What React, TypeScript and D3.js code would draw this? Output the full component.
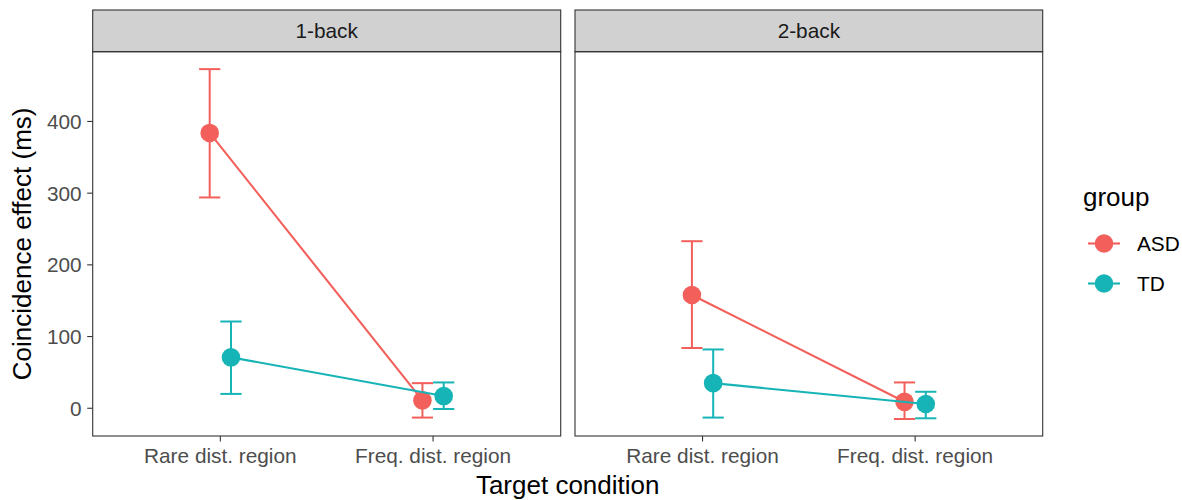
import React from "react";
import * as d3 from "d3";

// ---- data ----
const panels = ["1-back", "2-back"];
const conditions = ["Rare dist. region", "Freq. dist. region"];
const groups = ["ASD", "TD"];
const groupColors = ["#F3605B", "#16B4B6"];

// mean, lower, upper  per panel -> condition
const asdMean = [[384, 11], [158, 9]];
const asdLow = [[294, -13], [84, -15]];
const asdHigh = [[473, 35], [233, 36]];
const tdMean = [[71, 17], [35, 6]];
const tdLow = [[20, -1], [-13, -14]];
const tdHigh = [[121, 36], [82, 23]];

const yTicks = [0, 100, 200, 300, 400];

const means = [asdMean, tdMean];
const lows = [asdLow, tdLow];
const highs = [asdHigh, tdHigh];

// ---- layout ----
const W = 1182;
const H = 500;
const panelX = [
  [92.7, 560.7],
  [575, 1042.7],
];
const stripTop = 10;
const panelTop = 51.7;
const panelBottom = 436;
const FONT = "'Liberation Sans', Arial, Helvetica, sans-serif";
const tickFs = 20.8;
const titleFs = 26;

export default function App() {
  const y = d3.scaleLinear().domain([-38.7, 497.3]).range([panelBottom, panelTop]);

  return (
    <svg
      width={W}
      height={H}
      style={{ position: "absolute", left: 0, top: 0, background: "#fff" }}
      fontFamily={FONT}
    >
      {panels.map((pName, pi) => {
        const [x0, x1] = panelX[pi];
        const x = d3.scalePoint<string>().domain(conditions).range([x0, x1]).padding(0.6);
        const step = x.step();
        const dodge = [-0.05 * step, 0.05 * step];
        return (
          <g key={pName}>
            <rect x={x0} y={panelTop} width={x1 - x0} height={panelBottom - panelTop} fill="#fff" />
            {/* strip */}
            <rect
              x={x0}
              y={stripTop}
              width={x1 - x0}
              height={panelTop - stripTop}
              fill="#D1D1D1"
              stroke="#333333"
              strokeWidth={1.1}
            />
            <text
              x={(x0 + x1) / 2}
              y={(stripTop + panelTop) / 2 + tickFs * 0.36}
              textAnchor="middle"
              fontSize={tickFs}
              fill="#1A1A1A"
            >
              {pName}
            </text>

            {/* error bars and points */}
            {groups.map((g, gi) => {
              const col = groupColors[gi];
              const xs = conditions.map((c) => (x(c) as number) + dodge[gi]);
              const vals = means[gi][pi];
              return (
                <g key={g}>
                  {conditions.map((c, ci) => {
                    const cx = xs[ci];
                    const lo = y(lows[gi][pi][ci]);
                    const hi = y(highs[gi][pi][ci]);
                    return (
                      <g key={c} stroke={col} strokeWidth={2} fill="none">
                        <line x1={cx} x2={cx} y1={lo} y2={hi} />
                        <line x1={cx - 10.6} x2={cx + 10.6} y1={lo} y2={lo} />
                        <line x1={cx - 10.6} x2={cx + 10.6} y1={hi} y2={hi} />
                      </g>
                    );
                  })}
                  {conditions.map((c, ci) => (
                    <circle key={c} cx={xs[ci]} cy={y(vals[ci])} r={9.3} fill={col} />
                  ))}
                </g>
              );
            })}
            {/* lines */}
            {groups.map((g, gi) => {
              const col = groupColors[gi];
              const xs = conditions.map((c) => (x(c) as number) + dodge[gi]);
              const path = d3
                .line<number>()
                .x((_, ci) => xs[ci])
                .y((v) => y(v))(means[gi][pi]) as string;
              return <path key={g} d={path} stroke={col} strokeWidth={2.1} fill="none" />;
            })}

            {/* border */}
            <rect
              x={x0}
              y={panelTop}
              width={x1 - x0}
              height={panelBottom - panelTop}
              fill="none"
              stroke="#333333"
              strokeWidth={1.1}
            />

            {/* x ticks */}
            {conditions.map((c) => {
              const cx = x(c) as number;
              return (
                <g key={c}>
                  <line x1={cx} x2={cx} y1={panelBottom} y2={panelBottom + 5.5} stroke="#333333" strokeWidth={1.1} />
                  <text x={cx} y={panelBottom + 26.5} textAnchor="middle" fontSize={tickFs} fill="#4D4D4D">
                    {c}
                  </text>
                </g>
              );
            })}

            {/* y axis on first panel */}
            {pi === 0 &&
              yTicks.map((t) => (
                <g key={t}>
                  <line x1={x0 - 5.5} x2={x0} y1={y(t)} y2={y(t)} stroke="#333333" strokeWidth={1.1} />
                  <text x={x0 - 11} y={y(t) + tickFs * 0.36} textAnchor="end" fontSize={tickFs} fill="#4D4D4D">
                    {t}
                  </text>
                </g>
              ))}
          </g>
        );
      })}

      {/* axis titles */}
      <text
        x={(panelX[0][0] + panelX[1][1]) / 2}
        y={494}
        textAnchor="middle"
        fontSize={titleFs}
        fill="#000"
      >
        Target condition
      </text>
      <text
        transform={`translate(${31},${(panelTop + panelBottom) / 2}) rotate(-90)`}
        textAnchor="middle"
        fontSize={titleFs}
        fill="#000"
      >
        Coincidence effect (ms)
      </text>

      {/* legend */}
      <text x={1083} y={206} fontSize={titleFs} fill="#000">
        group
      </text>
      {groups.map((g, gi) => {
        const ky = 243.5 + gi * 40;
        const col = groupColors[gi];
        return (
          <g key={g}>
            <line x1={1088} x2={1120} y1={ky} y2={ky} stroke={col} strokeWidth={2.1} />
            <circle cx={1104} cy={ky} r={9.3} fill={col} />
            <text x={1137} y={ky + tickFs * 0.36} fontSize={tickFs} fill="#000">
              {g}
            </text>
          </g>
        );
      })}
    </svg>
  );
}
